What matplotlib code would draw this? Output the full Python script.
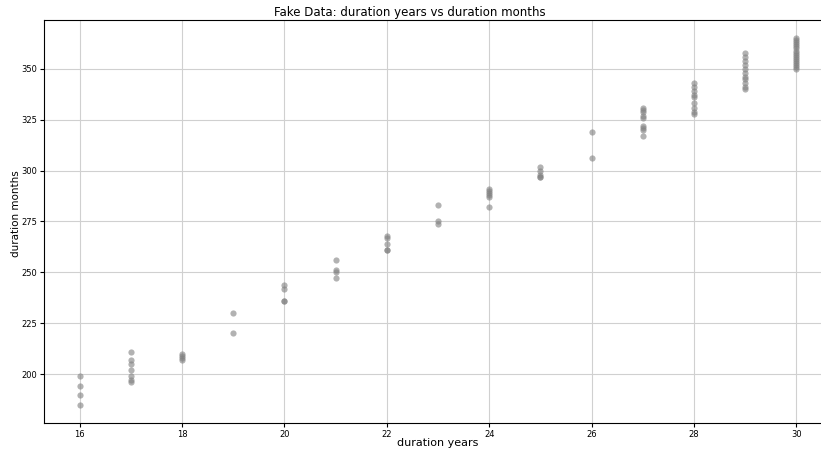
import matplotlib
matplotlib.use("Agg")
import matplotlib.pyplot as plt

# duration in months observed for each duration in years
years_16 = [199, 194, 190, 185]
years_17 = [211, 207, 205, 202, 199, 197, 196]
years_18 = [210, 209, 208, 207]
years_19 = [230, 220]
years_20 = [244, 242, 236, 236]
years_21 = [256, 251, 250, 247]
years_22 = [268, 267, 264, 261, 261]
years_23 = [283, 275, 274]
years_24 = [291, 290, 289, 288, 287, 282]
years_25 = [302, 300, 298, 297, 297]
years_26 = [319, 306]
years_27 = [331, 330, 329, 327, 326, 322, 321, 320, 317]
years_28 = [343, 341, 339, 337, 336, 333, 331, 329, 328]
years_29 = [358, 356, 354, 352, 350, 348, 346, 345, 343, 341, 340]
years_30 = [350, 351, 352, 353, 354, 355, 356, 357, 358, 359, 360, 361, 362, 363, 364, 365]

groups = {16: years_16, 17: years_17, 18: years_18, 19: years_19, 20: years_20,
          21: years_21, 22: years_22, 23: years_23, 24: years_24, 25: years_25,
          26: years_26, 27: years_27, 28: years_28, 29: years_29, 30: years_30}

x = []
y = []
for yr, months in groups.items():
    x += [yr] * len(months)
    y += months

fig = plt.figure(figsize=(8.21, 4.53), dpi=100)
# the right edge of the axes runs a bit past the picture, as in the original crop
ax = fig.add_axes([44 / 821, 30 / 453, 788 / 821, 403 / 453])

ax.scatter(x, y, s=20, color="gray", alpha=0.6, linewidths=0)

ax.set_xlim(15.3, 30.7)
ax.set_ylim(176, 374)
ax.set_xticks([16, 18, 20, 22, 24, 26, 28, 30])
ax.set_yticks([200, 225, 250, 275, 300, 325, 350])
ax.tick_params(labelsize=6, length=3, pad=2)
ax.grid(True, color="#d0d0d0", linewidth=0.8)
ax.set_axisbelow(True)

ax.set_title("Fake Data: duration years vs duration months", fontsize=8.5, pad=3, x=0.4645)
ax.set_xlabel("duration years", fontsize=8)
ax.xaxis.set_label_coords(0.5, -0.038)
ax.set_ylabel("duration months", fontsize=7.5)
ax.yaxis.set_label_coords(-0.029, 0.52)

fig.savefig("out.png", dpi=100)
